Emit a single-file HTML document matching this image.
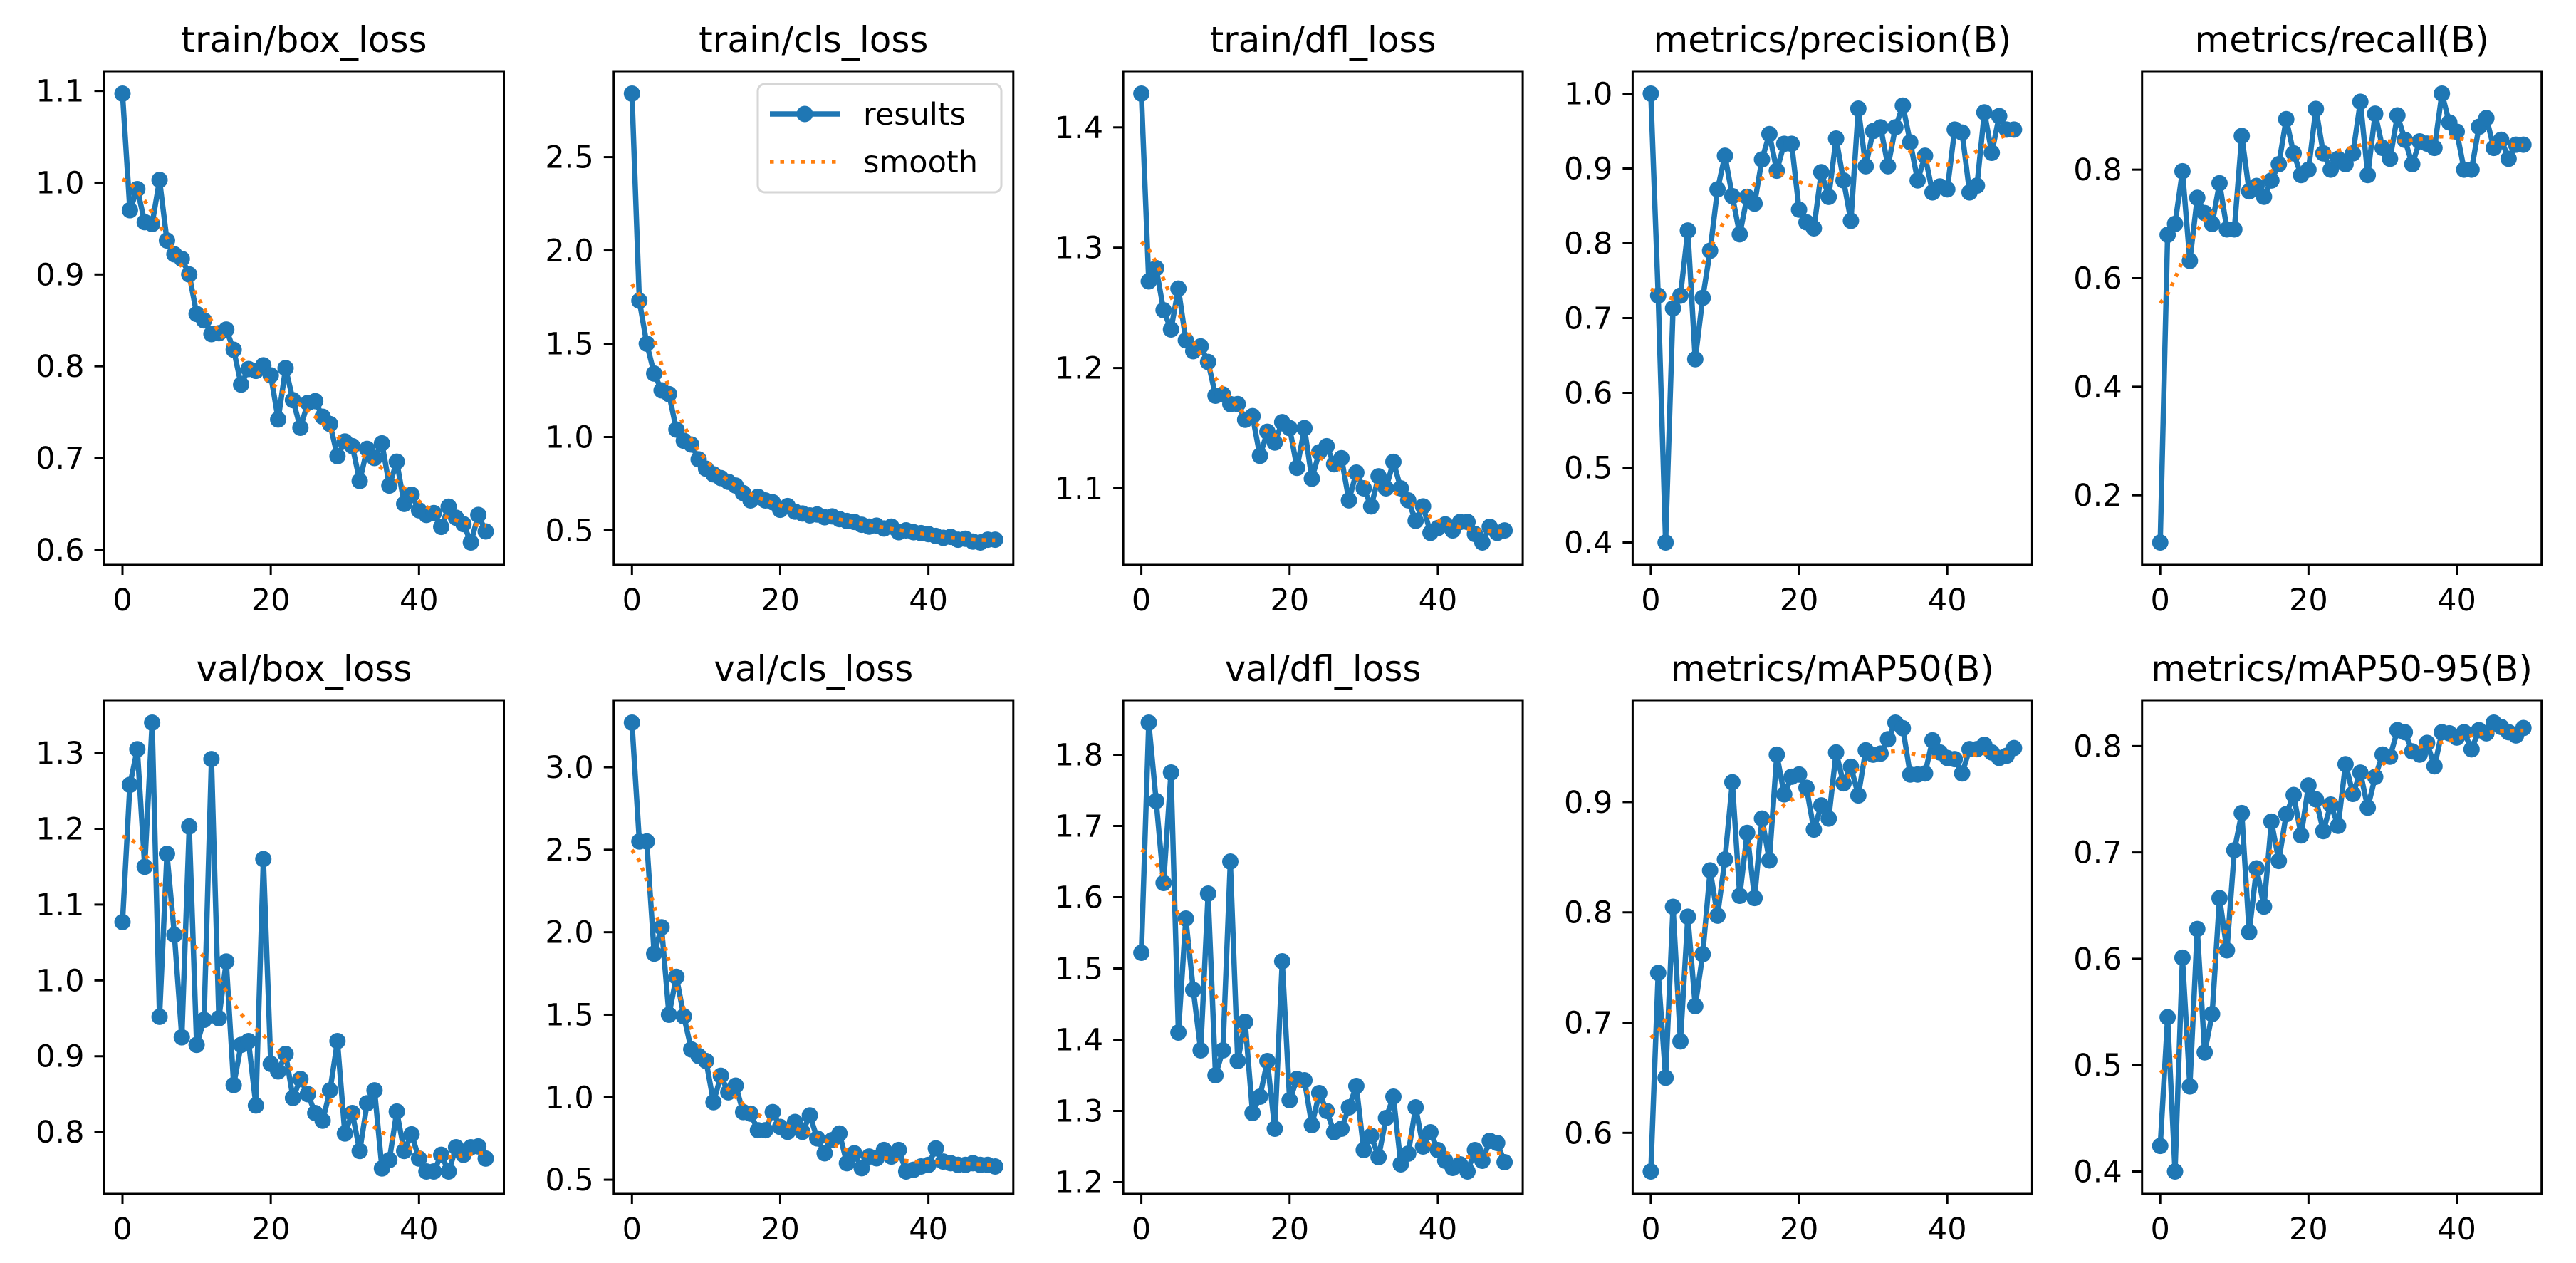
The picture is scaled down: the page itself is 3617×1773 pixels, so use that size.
<!DOCTYPE html>
<html><head><meta charset="utf-8">
<style>
html,body{margin:0;padding:0;background:#fff;}
svg{display:block;}
text{font-family:"DejaVu Sans","Liberation Sans",sans-serif;fill:#000;}
</style></head>
<body>
<svg id="chart" width="3617" height="1773" viewBox="0 0 3617 1773" xmlns="http://www.w3.org/2000/svg">
<rect x="0" y="0" width="3617" height="1773" fill="#fff"/>
</svg>
<script>
const epochs = Array.from({length:50},(_, i)=>i);
const panelTitles = ["train/box_loss","train/cls_loss","train/dfl_loss","metrics/precision(B)","metrics/recall(B)","val/box_loss","val/cls_loss","val/dfl_loss","metrics/mAP50(B)","metrics/mAP50-95(B)"];
const trainBoxLoss = [1.097,0.970,0.993,0.957,0.955,1.003,0.937,0.922,0.917,0.900,0.857,0.850,0.835,0.836,0.840,0.818,0.780,0.797,0.795,0.801,0.790,0.742,0.798,0.763,0.733,0.760,0.762,0.745,0.737,0.702,0.718,0.713,0.675,0.710,0.700,0.716,0.670,0.696,0.650,0.660,0.643,0.638,0.640,0.625,0.647,0.635,0.628,0.608,0.638,0.620];
const trainClsLoss = [2.84,1.73,1.50,1.34,1.25,1.23,1.04,0.98,0.96,0.88,0.83,0.80,0.78,0.76,0.74,0.70,0.66,0.68,0.66,0.65,0.61,0.63,0.60,0.59,0.58,0.585,0.57,0.575,0.56,0.55,0.545,0.53,0.52,0.525,0.51,0.52,0.49,0.50,0.49,0.485,0.48,0.47,0.46,0.465,0.45,0.455,0.44,0.435,0.45,0.45];
const trainDflLoss = [1.428,1.272,1.283,1.248,1.232,1.266,1.223,1.214,1.218,1.205,1.177,1.178,1.170,1.170,1.157,1.160,1.127,1.147,1.138,1.155,1.150,1.117,1.150,1.108,1.130,1.135,1.120,1.125,1.090,1.113,1.100,1.085,1.110,1.100,1.122,1.100,1.090,1.073,1.085,1.063,1.067,1.070,1.065,1.072,1.072,1.062,1.055,1.068,1.063,1.065];
const precision = [1.0,0.73,0.40,0.713,0.73,0.817,0.645,0.727,0.79,0.872,0.917,0.863,0.812,0.862,0.853,0.912,0.946,0.897,0.933,0.933,0.845,0.828,0.82,0.895,0.862,0.94,0.884,0.83,0.98,0.903,0.95,0.955,0.903,0.955,0.984,0.935,0.884,0.917,0.868,0.876,0.872,0.952,0.948,0.868,0.877,0.975,0.921,0.97,0.952,0.952];
const recall = [0.113,0.68,0.70,0.797,0.632,0.748,0.72,0.70,0.775,0.69,0.69,0.862,0.76,0.77,0.75,0.78,0.81,0.893,0.83,0.79,0.80,0.912,0.83,0.80,0.82,0.81,0.83,0.925,0.79,0.903,0.84,0.82,0.90,0.855,0.81,0.852,0.848,0.84,0.94,0.887,0.87,0.80,0.80,0.879,0.895,0.84,0.855,0.82,0.846,0.846];
const valBoxLoss = [1.077,1.258,1.305,1.150,1.340,0.952,1.167,1.060,0.925,1.203,0.915,0.948,1.292,0.950,1.025,0.862,0.915,0.920,0.835,1.160,0.890,0.880,0.903,0.845,0.870,0.850,0.825,0.815,0.855,0.920,0.798,0.825,0.775,0.838,0.855,0.752,0.763,0.827,0.775,0.797,0.765,0.748,0.748,0.770,0.748,0.780,0.770,0.780,0.781,0.765];
const valClsLoss = [3.27,2.55,2.55,1.87,2.03,1.50,1.73,1.49,1.29,1.25,1.22,0.97,1.13,1.03,1.07,0.91,0.90,0.80,0.80,0.91,0.82,0.79,0.85,0.79,0.89,0.75,0.66,0.74,0.78,0.60,0.66,0.57,0.64,0.63,0.68,0.64,0.68,0.55,0.56,0.58,0.59,0.69,0.61,0.60,0.59,0.59,0.60,0.59,0.59,0.58];
const valDflLoss = [1.522,1.845,1.735,1.620,1.775,1.410,1.570,1.470,1.385,1.605,1.350,1.385,1.650,1.370,1.425,1.297,1.320,1.370,1.275,1.510,1.315,1.345,1.343,1.280,1.325,1.300,1.270,1.275,1.305,1.335,1.245,1.265,1.235,1.290,1.320,1.225,1.240,1.305,1.250,1.270,1.245,1.230,1.220,1.225,1.215,1.245,1.230,1.258,1.255,1.228];
const mAP50 = [0.565,0.745,0.650,0.805,0.683,0.796,0.715,0.762,0.838,0.797,0.848,0.918,0.815,0.872,0.813,0.885,0.847,0.943,0.907,0.923,0.925,0.913,0.875,0.897,0.885,0.945,0.917,0.932,0.906,0.947,0.943,0.944,0.957,0.972,0.967,0.925,0.925,0.926,0.956,0.945,0.940,0.939,0.926,0.948,0.948,0.952,0.945,0.940,0.942,0.949];
const mAP5095 = [0.424,0.545,0.400,0.601,0.480,0.628,0.512,0.548,0.657,0.608,0.702,0.737,0.625,0.685,0.649,0.729,0.692,0.736,0.754,0.716,0.763,0.750,0.720,0.745,0.725,0.783,0.755,0.775,0.742,0.771,0.792,0.790,0.815,0.813,0.795,0.792,0.803,0.781,0.813,0.812,0.808,0.813,0.797,0.815,0.812,0.822,0.818,0.813,0.810,0.817];
const yTicks = [
  [0.6,0.7,0.8,0.9,1.0,1.1],
  [0.5,1.0,1.5,2.0,2.5],
  [1.1,1.2,1.3,1.4],
  [0.4,0.5,0.6,0.7,0.8,0.9,1.0],
  [0.2,0.4,0.6,0.8],
  [0.8,0.9,1.0,1.1,1.2,1.3],
  [0.5,1.0,1.5,2.0,2.5,3.0],
  [1.2,1.3,1.4,1.5,1.6,1.7,1.8],
  [0.6,0.7,0.8,0.9],
  [0.4,0.5,0.6,0.7,0.8]
];
const xTicks = [0,20,40];
const seriesList = [trainBoxLoss,trainClsLoss,trainDflLoss,precision,recall,valBoxLoss,valClsLoss,valDflLoss,mAP50,mAP5095];

const NS = "http://www.w3.org/2000/svg";
const svg = document.getElementById('chart');
function mk(tag, attrs, parent){
  const e = document.createElementNS(NS, tag);
  for (const k in attrs) e.setAttribute(k, attrs[k]);
  (parent||svg).appendChild(e);
  return e;
}
function gaussSmooth(y, sigma){
  const r = Math.round(4*sigma), n = y.length;
  const w = []; let s = 0;
  for (let k=-r;k<=r;k++){ const v = Math.exp(-0.5*k*k/(sigma*sigma)); w.push(v); s+=v; }
  const refl = i => { while(i<0||i>=n){ if(i<0) i=-i-1; if(i>=n) i=2*n-i-1; } return i; };
  return y.map((_,i)=>{ let a=0; for(let k=-r;k<=r;k++) a+=w[k+r]*y[refl(i+k)]; return a/s; });
}
const AX_W = 561, AX_H = 693;
const colLeft = i => 146.5 + 715.3*i;
const rowTop = r => r===0 ? 100 : 983;
const LW = 7.5, MR = 11.5, SW = 5.5, SDASH = '5.5 9';

seriesList.forEach((vals, p) => {
  const row = Math.floor(p/5), col = p%5;
  const L = colLeft(col), T = rowTop(row), R = L+AX_W, B = T+AX_H;
  const g = mk('g', {});
  
  
  const sm = gaussSmooth(vals, 3);
  const all = vals.concat(sm);
  const mn = Math.min(...all), mx = Math.max(...all), rg = mx-mn;
  const y0 = mn-0.05*rg, y1 = mx+0.05*rg;
  const x0 = -2.45, x1 = 51.45;
  const sx = x => L + (x-x0)/(x1-x0)*AX_W;
  const sy = y => B - (y-y0)/(y1-y0)*AX_H;

  const t = mk('text', {x:(L+R)/2, y:T-27, 'text-anchor':'middle', 'font-size':50}, g);
  t.textContent = panelTitles[p];
  
  

  const pts = vals.map((v,i)=>sx(epochs[i]).toFixed(1)+','+sy(v).toFixed(1)).join(' ');
  const pl = mk('polyline', {points:pts, fill:'none', stroke:'#1f77b4', 'stroke-width':LW, 'stroke-linejoin':'round'}, g);
  
  
  vals.forEach((v,i)=>{
    const c = mk('circle', {cx:sx(epochs[i]), cy:sy(v), r:MR, fill:'#1f77b4'}, g);
    
    
  });
  const spts = sm.map((v,i)=>sx(epochs[i]).toFixed(1)+','+sy(v).toFixed(1)).join(' ');
  const sl = mk('polyline', {points:spts, fill:'none', stroke:'#ff7f0e', 'stroke-width':SW, 'stroke-dasharray':SDASH}, g);
  
  

  const fr = mk('rect', {x:L, y:T, width:AX_W, height:AX_H, fill:'none', stroke:'#000', 'stroke-width':3}, g);
  
  

  yTicks[p].forEach(tv=>{
    const y = sy(tv);
    mk('line', {x1:L-14, x2:L, y1:y, y2:y, stroke:'#000', 'stroke-width':3}, g);
    const tl = mk('text', {x:L-28, y:y+15, 'text-anchor':'end', 'font-size':43}, g);
    tl.textContent = tv.toFixed(1);
    
    
  });
  xTicks.forEach(tv=>{
    const x = sx(tv);
    mk('line', {x1:x, x2:x, y1:B, y2:B+14, stroke:'#000', 'stroke-width':3}, g);
    const tl = mk('text', {x:x, y:B+64, 'text-anchor':'middle', 'font-size':43}, g);
    tl.textContent = String(tv);
    
    
  });

  if (p === 1) {
    const lg = mk('g', {}, g);
    
    
    mk('rect', {x:1064, y:118, width:342, height:152, rx:10, fill:'#fff', 'fill-opacity':0.8, stroke:'#d6d6d6', 'stroke-width':3}, lg);
    mk('line', {x1:1081, x2:1179, y1:160, y2:160, stroke:'#1f77b4', 'stroke-width':LW}, lg);
    mk('circle', {cx:1130, cy:160, r:MR, fill:'#1f77b4'}, lg);
    const t1 = mk('text', {x:1212, y:175, 'font-size':43}, lg);
    t1.textContent = 'results';
    
    
    mk('line', {x1:1081, x2:1179, y1:227, y2:227, stroke:'#ff7f0e', 'stroke-width':SW, 'stroke-dasharray':SDASH}, lg);
    const t2 = mk('text', {x:1212, y:242, 'font-size':43}, lg);
    t2.textContent = 'smooth';
    
    
  }
});
</script>
</body></html>
